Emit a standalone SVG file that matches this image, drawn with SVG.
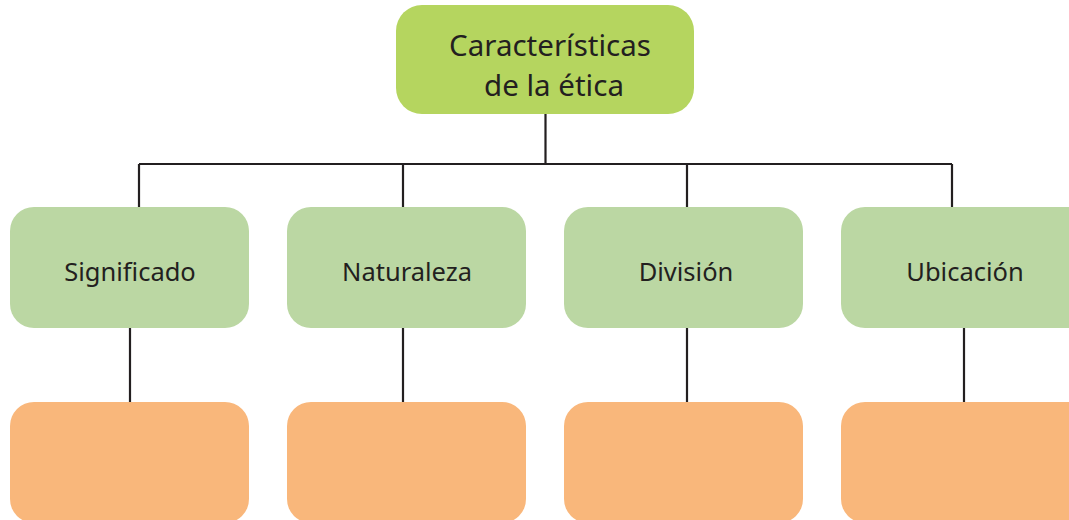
<svg xmlns="http://www.w3.org/2000/svg" width="1069" height="520" viewBox="0 0 1069 520">
<style>
.top{fill:#b5d55f}
.mid{fill:#bbd7a3}
.low{fill:#f9b77b}
.lbl{font-family:"Noto Sans","Open Sans",sans-serif;fill:#231f20;text-anchor:middle}
.con{stroke:#231f20;stroke-width:2.2;fill:none}
</style>
<rect width="1069" height="520" fill="#ffffff"/>
<g id="connectors">
<path class="con" d="M545.5 114V164M139 164H952M139 164V207M403 164V207M687 164V207M952 164V207"/>
<path class="con" d="M130 328V402M403 328V402M687 328V402M964 328V402"/>
</g>
<g id="n-root">
<rect class="top" x="396" y="5" width="298" height="109" rx="26"/>
<text class="lbl" x="550" y="56" font-size="29.5">Características</text>
<text class="lbl" x="554" y="96" font-size="29.5">de la ética</text>
</g>
<g id="n-significado">
<rect class="mid" x="10" y="207" width="239" height="121" rx="24"/>
<text class="lbl" x="130" y="281" font-size="25.5">Significado</text>
</g>
<g id="n-naturaleza">
<rect class="mid" x="287" y="207" width="239" height="121" rx="24"/>
<text class="lbl" x="407" y="281" font-size="25.5">Naturaleza</text>
</g>
<g id="n-division">
<rect class="mid" x="564" y="207" width="239" height="121" rx="24"/>
<text class="lbl" x="686" y="281" font-size="25.5">División</text>
</g>
<g id="n-ubicacion">
<rect class="mid" x="841" y="207" width="260" height="121" rx="24"/>
<text class="lbl" x="965" y="281" font-size="25.5">Ubicación</text>
</g>
<g id="n-low1"><rect class="low" x="10" y="402" width="239" height="121" rx="24"/></g>
<g id="n-low2"><rect class="low" x="287" y="402" width="239" height="121" rx="24"/></g>
<g id="n-low3"><rect class="low" x="564" y="402" width="239" height="121" rx="24"/></g>
<g id="n-low4"><rect class="low" x="841" y="402" width="260" height="121" rx="24"/></g>
</svg>
